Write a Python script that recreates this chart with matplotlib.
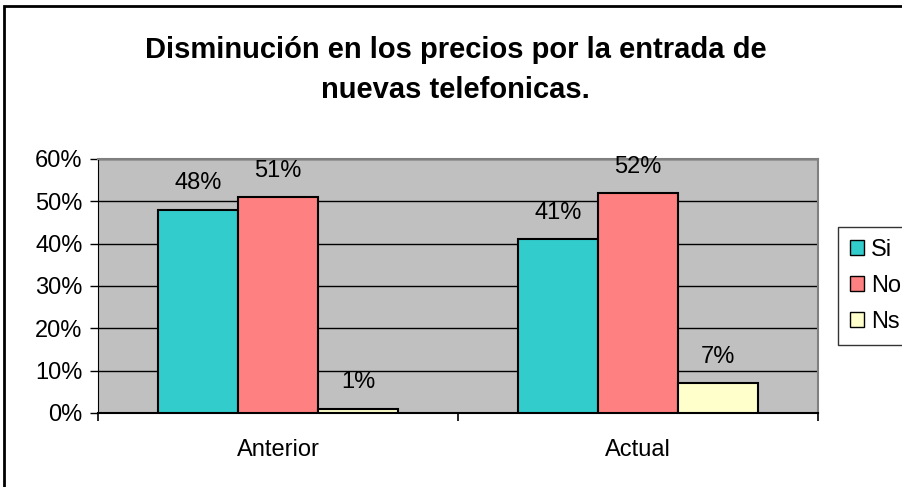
import matplotlib
matplotlib.use("Agg")
import matplotlib.pyplot as plt
import numpy as np
from matplotlib.ticker import FuncFormatter, FixedLocator
from matplotlib.patches import Rectangle

plt.rcParams["font.family"] = ["Liberation Sans", "DejaVu Sans"]

# data
categories = ["Anterior", "Actual"]
series_names = ["Si", "No", "Ns"]
si_values = [48, 41]
no_values = [51, 52]
ns_values = [1, 7]
series_colors = ["#33CCCC", "#FF8080", "#FFFFCC"]
title = "Disminución en los precios por la entrada de\nnuevas telefonicas."

fig = plt.figure(figsize=(9.02, 4.87), dpi=100)
ax = fig.add_axes([0.1086, 0.1520, 0.7982, 0.5216])
ax.set_facecolor("#C0C0C0")

x = np.arange(len(categories))
width = 0.2222
all_values = [si_values, no_values, ns_values]
for i, (name, vals, color) in enumerate(zip(series_names, all_values, series_colors)):
    bars = ax.bar(x + (i - 1) * width, vals, width, color=color, edgecolor="black",
                  linewidth=1.5, label=name, zorder=3)
    for b, v in zip(bars, vals):
        ax.annotate(f"{v}%", (b.get_x() + b.get_width() / 2, v),
                    xytext=(0, 11), textcoords="offset points",
                    ha="center", va="bottom", fontsize=17, zorder=4)

ax.set_xlim(-0.5, 1.5)
ax.set_ylim(0, 60)
ax.set_yticks(range(0, 61, 10))
ax.yaxis.set_major_formatter(FuncFormatter(lambda v, p: f"{v:.0f}%"))
ax.yaxis.grid(True, color="black", linewidth=1, zorder=1)
ax.set_axisbelow(True)

# category labels centred, ticks on category boundaries
ax.set_xticks(x)
ax.set_xticklabels(categories)
ax.xaxis.set_minor_locator(FixedLocator([-0.5, 0.5, 1.5]))
ax.tick_params(axis="x", which="major", length=0, pad=19, labelsize=17)
ax.tick_params(axis="x", which="minor", length=6, width=1.2, color="black")
ax.tick_params(axis="y", length=6, width=1, pad=5, labelsize=17)

for side in ["top", "right"]:
    ax.spines[side].set_color("#808080")
    ax.spines[side].set_linewidth(1.5)
ax.spines["left"].set_color("black")
ax.spines["bottom"].set_color("black")
ax.spines["bottom"].set_linewidth(1.5)

fig.text(0.505, 0.857, title, ha="center", va="center", fontsize=21,
         fontweight="bold", linespacing=1.55)

leg = fig.legend(loc="center left", bbox_to_anchor=(0.929, 0.413), frameon=True,
                 fancybox=False, edgecolor="black", fontsize=17,
                 handlelength=0.6, handleheight=0.6, handletextpad=0.3,
                 labelspacing=0.6, borderpad=0.5, borderaxespad=0)
leg.get_frame().set_linewidth(1)
for h in leg.legend_handles:
    h.set_linewidth(1)

# outer chart border (left/top visible only)
fig.patches.append(Rectangle((4 / 902, -0.1), 1.2, 1.1 - 6 / 487,
                             transform=fig.transFigure, fill=False,
                             edgecolor="black", linewidth=2))

fig.savefig("out.png", dpi=100)
